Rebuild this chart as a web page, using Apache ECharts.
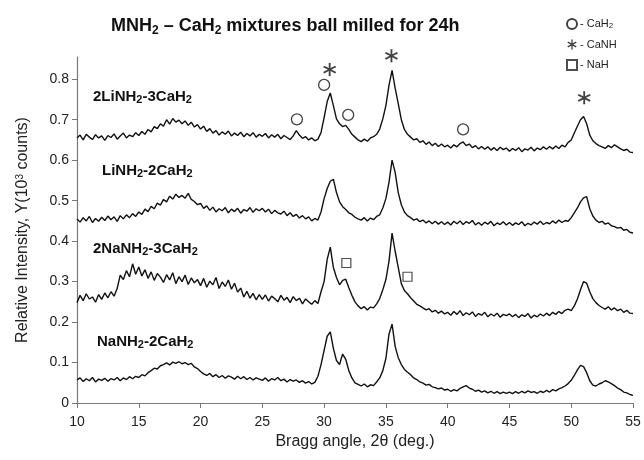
<!DOCTYPE html>
<html>
<head>
<meta charset="utf-8">
<script src="https://cdn.jsdelivr.net/npm/echarts@6/dist/echarts.min.js"></script>
<style>
  html, body { margin: 0; padding: 0; background: #fff; }
  #xrd__chart { width: 644px; height: 460px; }
</style>
</head>
<body>
<div id="xrd__chart"></div>
<script>
// 2theta grid of the scans: 10 to 55 deg, read every 0.25 deg
var angleStart = 10
var angleStep = 0.25

// relative intensity, 10^3 counts
var li23 = [
  0.655,0.662,0.650,0.664,0.657,0.651,0.663,0.655,0.660,0.649,0.661,0.656,0.665,0.652,0.660,0.667,0.655,0.662,0.658,0.668,
  0.661,0.671,0.664,0.676,0.670,0.683,0.678,0.690,0.684,0.700,0.689,0.703,0.694,0.699,0.690,0.697,0.686,0.694,0.682,0.688,
  0.677,0.684,0.671,0.678,0.667,0.673,0.662,0.670,0.664,0.672,0.660,0.667,0.661,0.669,0.658,0.666,0.660,0.668,0.657,0.664,
  0.659,0.666,0.655,0.663,0.657,0.664,0.653,0.661,0.656,0.651,0.660,0.673,0.662,0.654,0.658,0.650,0.655,0.648,0.652,0.668,
  0.705,0.745,0.766,0.735,0.702,0.690,0.683,0.686,0.676,0.664,0.657,0.650,0.646,0.652,0.647,0.655,0.658,0.664,0.677,0.702,
  0.735,0.785,0.822,0.778,0.740,0.700,0.676,0.664,0.657,0.650,0.653,0.644,0.648,0.639,0.645,0.636,0.642,0.634,0.640,0.633,
  0.637,0.630,0.638,0.633,0.641,0.645,0.636,0.640,0.631,0.636,0.628,0.634,0.627,0.633,0.625,0.631,0.624,0.632,0.626,0.630,
  0.622,0.629,0.624,0.631,0.621,0.628,0.625,0.632,0.623,0.630,0.626,0.633,0.627,0.634,0.628,0.635,0.629,0.637,0.633,0.644,
  0.650,0.667,0.684,0.700,0.708,0.690,0.662,0.648,0.641,0.636,0.633,0.629,0.636,0.631,0.638,0.633,0.628,0.624,0.627,0.620,
  0.619
]
var li12 = [
  0.455,0.447,0.458,0.450,0.461,0.446,0.456,0.449,0.459,0.451,0.462,0.453,0.460,0.449,0.463,0.455,0.465,0.458,0.468,0.461,
  0.472,0.466,0.479,0.473,0.486,0.480,0.494,0.489,0.503,0.497,0.511,0.504,0.516,0.508,0.513,0.506,0.518,0.503,0.498,0.490,
  0.493,0.481,0.487,0.476,0.484,0.472,0.480,0.475,0.483,0.470,0.479,0.473,0.481,0.469,0.478,0.474,0.483,0.471,0.480,0.475,
  0.481,0.472,0.479,0.468,0.476,0.470,0.467,0.474,0.463,0.470,0.461,0.466,0.457,0.463,0.455,0.460,0.450,0.456,0.452,0.472,
  0.505,0.530,0.548,0.553,0.520,0.497,0.485,0.478,0.470,0.466,0.459,0.455,0.452,0.458,0.450,0.457,0.453,0.461,0.465,0.482,
  0.505,0.545,0.600,0.570,0.520,0.490,0.472,0.463,0.458,0.452,0.455,0.448,0.452,0.445,0.450,0.443,0.449,0.442,0.448,0.441,
  0.447,0.440,0.449,0.443,0.450,0.441,0.448,0.444,0.451,0.440,0.446,0.439,0.447,0.442,0.449,0.438,0.445,0.441,0.448,0.440,
  0.446,0.439,0.445,0.441,0.448,0.438,0.444,0.440,0.447,0.442,0.449,0.441,0.446,0.443,0.450,0.444,0.452,0.446,0.451,0.449,
  0.458,0.470,0.482,0.497,0.507,0.510,0.480,0.462,0.452,0.446,0.449,0.442,0.445,0.438,0.436,0.432,0.434,0.427,0.429,0.422,
  0.420
]
var na23 = [
  0.248,0.266,0.253,0.270,0.257,0.262,0.249,0.268,0.256,0.272,0.260,0.275,0.264,0.283,0.316,0.305,0.327,0.312,0.344,0.318,
  0.336,0.314,0.329,0.308,0.324,0.303,0.320,0.311,0.298,0.317,0.304,0.322,0.295,0.312,0.300,0.316,0.293,0.309,0.297,0.305,
  0.290,0.308,0.286,0.301,0.292,0.310,0.283,0.299,0.288,0.304,0.281,0.296,0.274,0.284,0.262,0.276,0.259,0.271,0.255,0.268,
  0.256,0.267,0.252,0.264,0.258,0.250,0.266,0.254,0.261,0.248,0.263,0.253,0.259,0.245,0.257,0.250,0.244,0.253,0.246,0.275,
  0.300,0.355,0.385,0.335,0.310,0.292,0.303,0.306,0.285,0.266,0.250,0.240,0.233,0.238,0.230,0.237,0.235,0.245,0.258,0.280,
  0.305,0.350,0.420,0.375,0.335,0.295,0.278,0.270,0.260,0.252,0.244,0.240,0.235,0.230,0.233,0.225,0.229,0.222,0.227,0.220,
  0.224,0.217,0.226,0.219,0.228,0.216,0.223,0.218,0.225,0.214,0.221,0.217,0.224,0.213,0.220,0.215,0.222,0.212,0.219,0.216,
  0.220,0.213,0.219,0.211,0.218,0.214,0.221,0.210,0.217,0.213,0.220,0.215,0.222,0.216,0.224,0.219,0.226,0.221,0.229,0.232,
  0.228,0.240,0.257,0.280,0.300,0.296,0.275,0.258,0.248,0.241,0.236,0.232,0.238,0.230,0.235,0.228,0.232,0.224,0.229,0.222,
  0.221
]
var na12 = [
  0.057,0.062,0.053,0.060,0.055,0.063,0.052,0.059,0.056,0.061,0.054,0.060,0.057,0.063,0.055,0.062,0.058,0.065,0.060,0.066,
  0.063,0.070,0.067,0.075,0.080,0.086,0.084,0.092,0.095,0.099,0.094,0.101,0.098,0.102,0.097,0.100,0.095,0.098,0.089,0.085,
  0.078,0.072,0.068,0.073,0.065,0.070,0.063,0.068,0.061,0.067,0.064,0.059,0.066,0.060,0.065,0.058,0.063,0.057,0.062,0.059,
  0.056,0.062,0.054,0.060,0.057,0.063,0.055,0.059,0.052,0.058,0.054,0.057,0.051,0.055,0.049,0.053,0.047,0.051,0.066,0.095,
  0.130,0.165,0.176,0.135,0.105,0.095,0.121,0.108,0.080,0.062,0.050,0.046,0.042,0.047,0.040,0.045,0.043,0.052,0.062,0.080,
  0.110,0.170,0.195,0.140,0.112,0.095,0.083,0.076,0.070,0.062,0.058,0.052,0.049,0.044,0.046,0.040,0.038,0.035,0.037,0.032,
  0.034,0.029,0.033,0.030,0.036,0.040,0.043,0.037,0.034,0.029,0.032,0.027,0.030,0.025,0.029,0.024,0.028,0.023,0.027,0.024,
  0.027,0.023,0.028,0.024,0.029,0.025,0.030,0.026,0.028,0.024,0.029,0.026,0.031,0.027,0.033,0.030,0.035,0.038,0.042,0.048,
  0.056,0.068,0.082,0.093,0.090,0.075,0.055,0.044,0.042,0.047,0.050,0.055,0.052,0.048,0.043,0.037,0.033,0.027,0.025,0.021,
  0.019
]

// phase markers [2theta, intensity]
var cah2Marks = [[27.8, 0.701], [30.0, 0.786], [31.95, 0.712], [41.25, 0.676]]
var canhMarks = [[30.45, 0.824], [35.45, 0.858], [51.05, 0.754]]
var nahMarks = [[31.8, 0.346], [36.75, 0.312]]

var xTicks = [10, 15, 20, 25, 30, 35, 40, 45, 50, 55]
var yTicks = [0, 0.1, 0.2, 0.3, 0.4, 0.5, 0.6, 0.7, 0.8]

function toPairs(vals) {
  return vals.map(function (v, i) { return [angleStart + angleStep * i, v] })
}

// six-armed asterisk like the one printed in the figure
var starPath = 'path://M8.6,0 H11.4 L11.2,7.6 L17.8,4 L19.2,6.4 L12.6,10 L19.2,13.6 L17.8,16 L11.2,12.4 L11.4,20 H8.6 L8.8,12.4 L2.2,16 L0.8,13.6 L7.4,10 L0.8,6.4 L2.2,4 L8.8,7.6 Z'

function traceLine(name, vals) {
  return {
    name: name,
    type: 'line',
    data: toPairs(vals),
    showSymbol: false,
    silent: true,
    lineStyle: { color: '#111', width: 1.4 },
    z: 2
  }
}

function sampleLabel(txt, x, y) {
  return {
    type: 'text',
    left: x,
    top: y,
    style: {
      text: txt,
      fill: '#111',
      font: 'bold 15px "Liberation Sans"',
      lineHeight: 17,
      rich: {
        s: { fontSize: 11, lineHeight: 11, verticalAlign: 'bottom', fontWeight: 'bold', fontFamily: 'Liberation Sans', fill: '#111' }
      }
    }
  }
}

var myChart = echarts.init(document.getElementById('xrd__chart'))
var option = {
  backgroundColor: '#fff',
  animation: false,
  title: {
    text: 'MNH{t|2} – CaH{t|2} mixtures ball milled for 24h',
    left: 106,
    top: 11,
    textStyle: {
      fontFamily: 'Liberation Sans',
      fontWeight: 'bold',
      fontSize: 18,
      color: '#111',
      lineHeight: 21,
      rich: {
        t: { fontSize: 12, lineHeight: 12, verticalAlign: 'bottom', fontWeight: 'bold', fontFamily: 'Liberation Sans', color: '#111' }
      }
    }
  },
  legend: {
    data: ['CaH2', 'CaNH', 'NaH'],
    orient: 'vertical',
    left: 561,
    top: 13,
    itemWidth: 10,
    itemHeight: 10,
    itemGap: 9,
    selectedMode: false,
    formatter: function (n) {
      return n === 'CaH2' ? '- CaH{s|2}' : '- ' + n
    },
    textStyle: {
      fontFamily: 'Liberation Sans',
      fontSize: 11,
      color: '#222',
      padding: [0, 0, 0, -2],
      rich: { s: { fontSize: 8, lineHeight: 8, verticalAlign: 'bottom', color: '#222' } }
    }
  },
  grid: { left: 77, right: 11, top: 57, bottom: 57 },
  xAxis: {
    type: 'value',
    min: 10,
    max: 55,
    interval: 5,
    name: 'Bragg angle, 2θ (deg.)',
    nameLocation: 'middle',
    nameGap: 31,
    nameTextStyle: { fontFamily: 'Liberation Sans', fontSize: 16, color: '#222' },
    axisLine: { lineStyle: { color: '#777', width: 1.2 } },
    axisTick: { show: true, length: 5, lineStyle: { color: '#777' }, customValues: xTicks },
    axisLabel: { fontFamily: 'Liberation Sans', fontSize: 14, color: '#222', margin: 12, customValues: xTicks },
    splitLine: { show: false }
  },
  yAxis: {
    type: 'value',
    min: 0,
    max: 0.855,
    name: 'Relative Intensity, Y(10{p|3} counts)',
    nameLocation: 'middle',
    nameGap: 46,
    nameTextStyle: {
      fontFamily: 'Liberation Sans',
      fontSize: 16,
      color: '#222',
      rich: { p: { fontSize: 10, lineHeight: 10, verticalAlign: 'top', color: '#222' } }
    },
    axisLine: { show: true, lineStyle: { color: '#777', width: 1.2 } },
    axisTick: { show: true, length: 5, lineStyle: { color: '#777' }, customValues: yTicks },
    axisLabel: {
      fontFamily: 'Liberation Sans',
      fontSize: 14,
      color: '#222',
      margin: 8,
      customValues: yTicks,
      formatter: function (v) { return v === 0 ? '0' : v.toFixed(1) }
    },
    splitLine: { show: false }
  },
  graphic: [
    sampleLabel('2LiNH{s|2}-3CaH{s|2}', 93, 88),
    sampleLabel('LiNH{s|2}-2CaH{s|2}', 102, 162),
    sampleLabel('2NaNH{s|2}-3CaH{s|2}', 93, 240),
    sampleLabel('NaNH{s|2}-2CaH{s|2}', 97, 333)
  ],
  series: [
    traceLine('2LiNH2-3CaH2', li23),
    traceLine('LiNH2-2CaH2', li12),
    traceLine('2NaNH2-3CaH2', na23),
    traceLine('NaNH2-2CaH2', na12),
    {
      name: 'CaH2',
      type: 'scatter',
      data: cah2Marks,
      symbol: 'circle',
      symbolSize: 11,
      clip: false,
      itemStyle: { color: '#fff', borderColor: '#111', borderWidth: 1.3 },
      z: 5
    },
    {
      name: 'CaNH',
      type: 'scatter',
      data: canhMarks,
      symbol: starPath,
      symbolSize: 13,
      clip: false,
      itemStyle: { color: '#111' },
      z: 5
    },
    {
      name: 'NaH',
      type: 'scatter',
      data: nahMarks,
      symbol: 'rect',
      symbolSize: 9,
      clip: false,
      itemStyle: { color: '#fff', borderColor: '#222', borderWidth: 1.2 },
      z: 5
    }
  ]
}
myChart.setOption(option)
window.addEventListener('resize', () => myChart.resize(), false)
</script>
</body>
</html>
